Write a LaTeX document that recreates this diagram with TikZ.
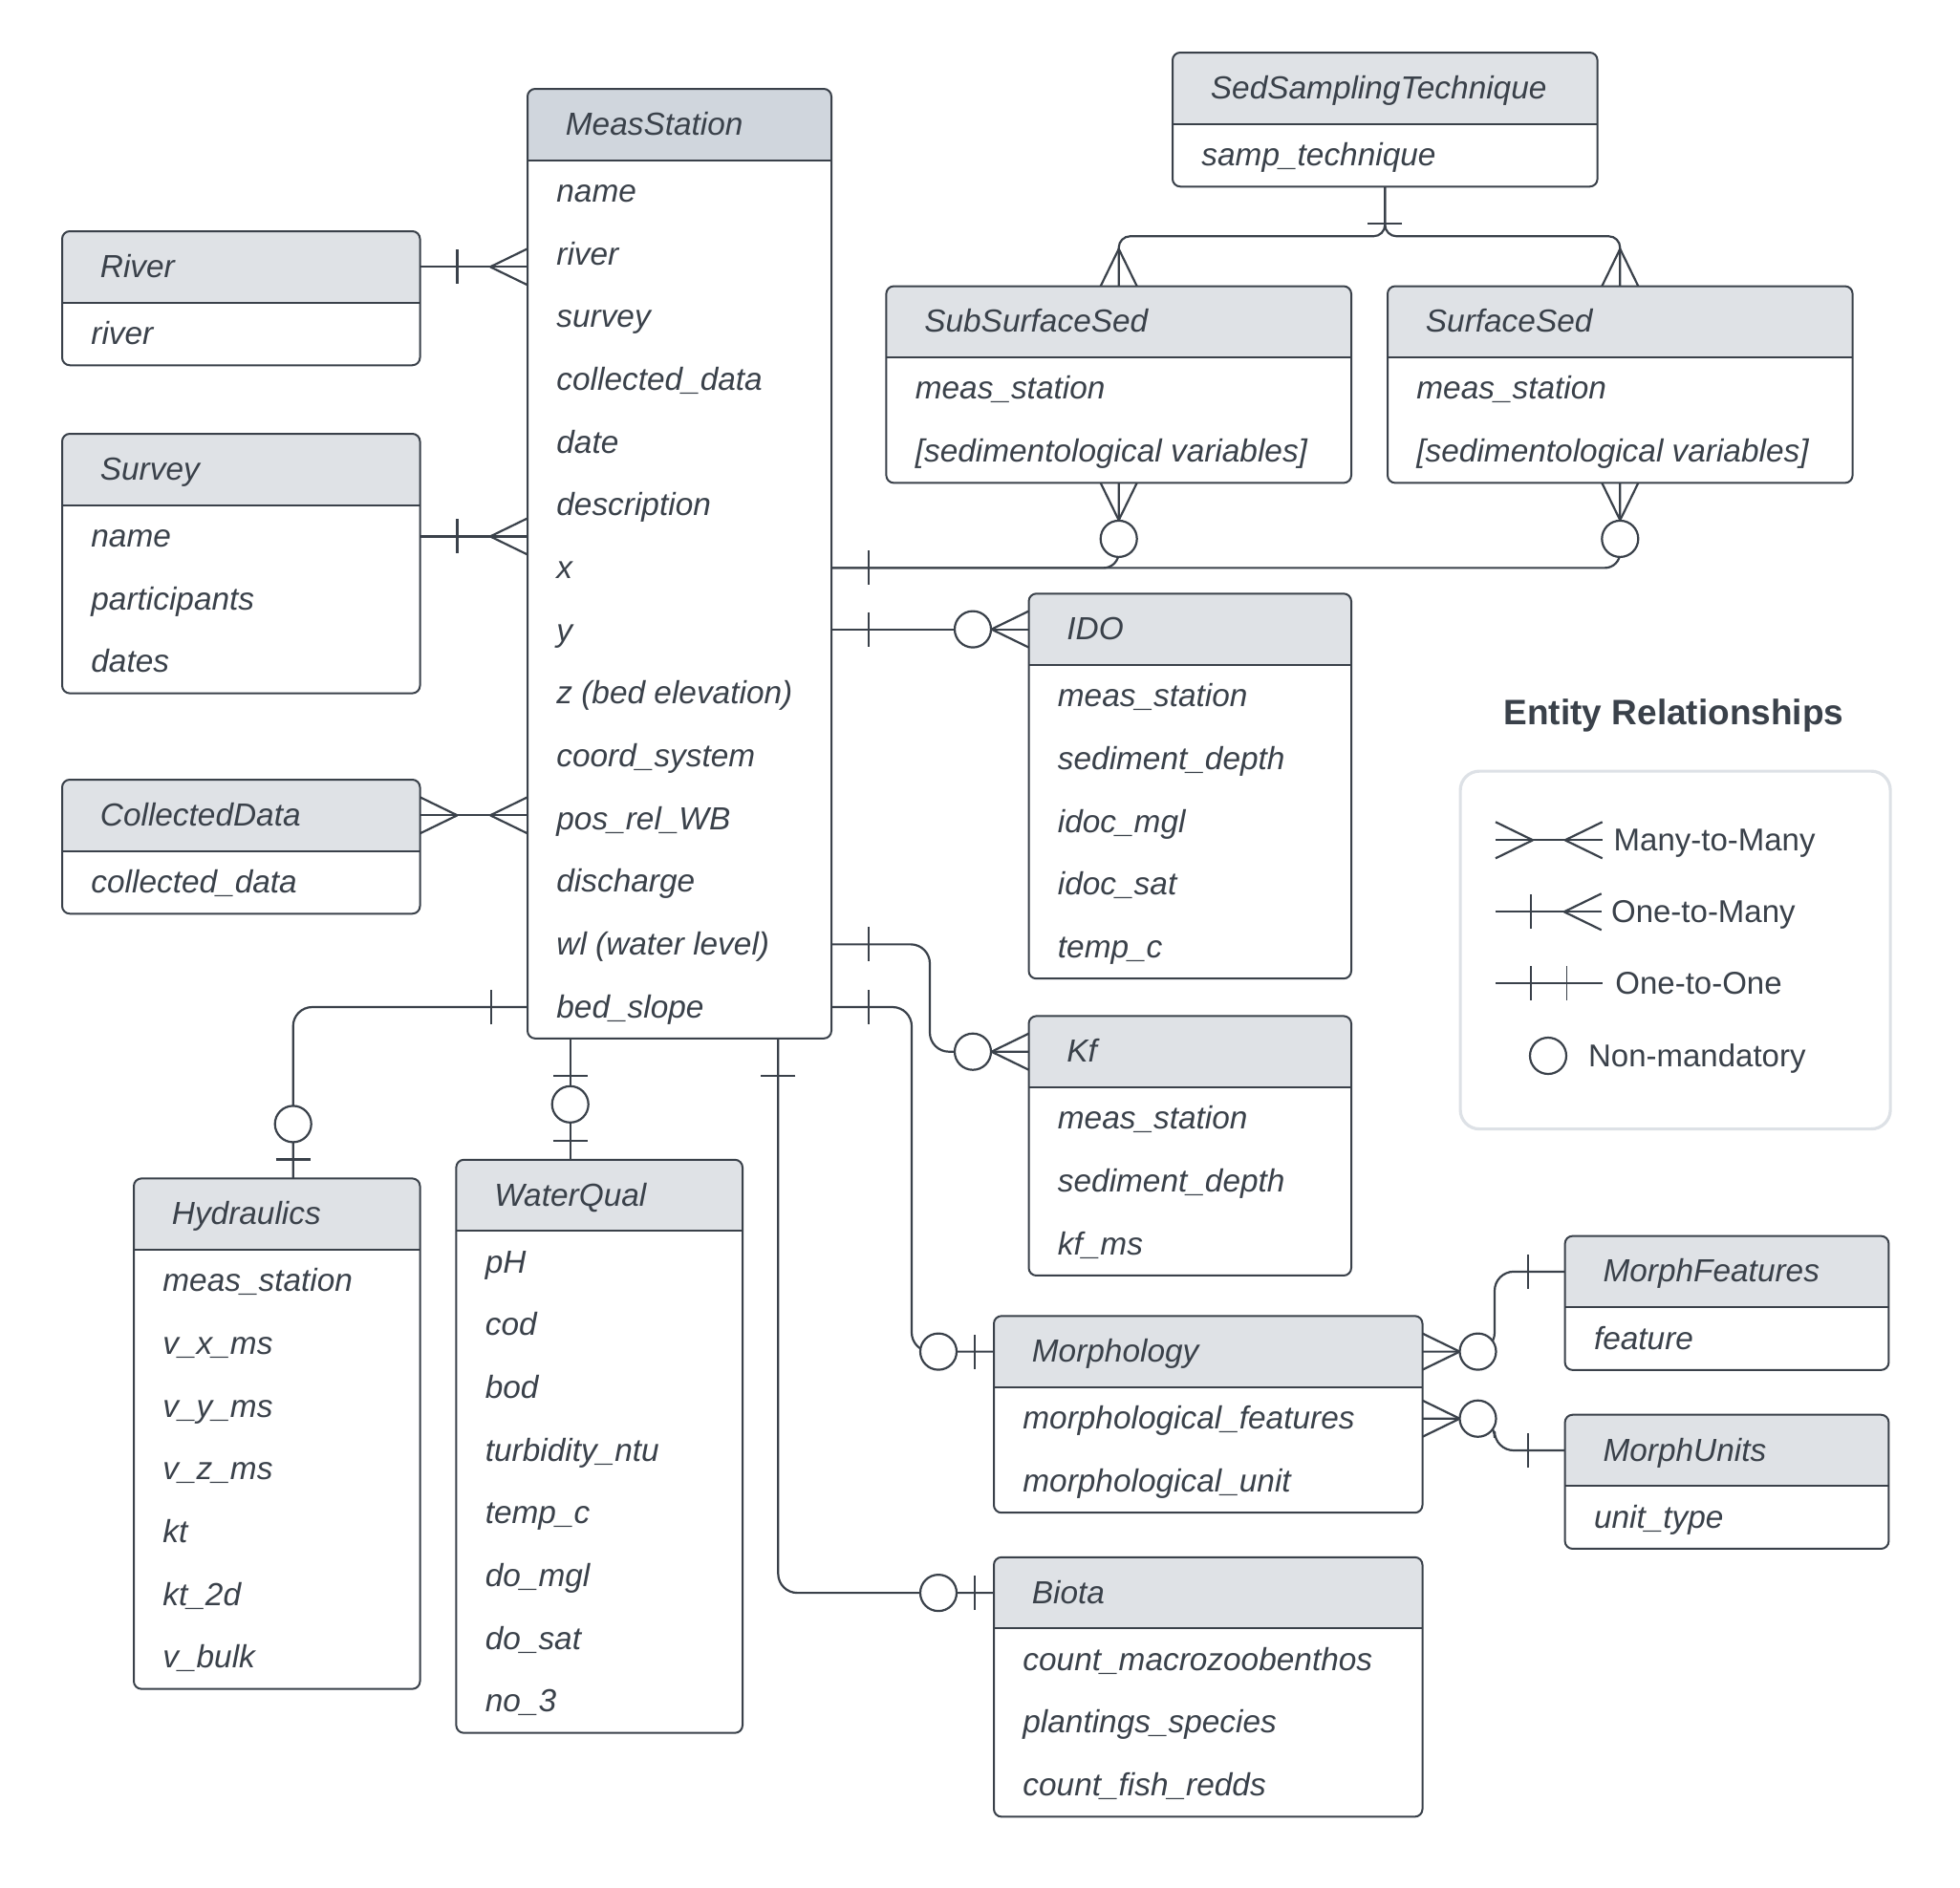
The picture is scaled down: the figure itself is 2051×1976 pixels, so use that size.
\documentclass[tikz,border=0pt]{standalone}
\usepackage{fontspec}
\setmainfont{Liberation Sans}
\usetikzlibrary{calc}

\definecolor{ink}{HTML}{3A414A}
\definecolor{hdr}{HTML}{DFE2E6}
\definecolor{hdrkey}{HTML}{D0D6DD}
\definecolor{legendrim}{HTML}{DDE1E6}

\tikzset{
  conn/.style={draw=ink, line width=1.1pt},
  thintick/.style={line width=0.7pt},
  erframe/.style={rectangle, draw=ink, line width=1pt, rounded corners=4pt,
                  inner sep=0pt, outer sep=0pt},
  hdtext/.style={anchor=base west, inner sep=0pt, text=ink,
                 font=\fontsize{16.7}{20}\selectfont\itshape},
  rowtext/.style={anchor=base west, inner sep=0pt, text=ink,
                  font=\fontsize{16.7}{20}\selectfont\itshape},
  legtext/.style={anchor=base west, inner sep=0pt, text=ink,
                  font=\fontsize{16.5}{20}\selectfont},
  legtitle/.style={anchor=base, inner sep=0pt, text=ink,
                   font=\fontsize{18.5}{22}\selectfont\bfseries},
}

% entity box: [header colour]{id}{left}{top}{width}{rows}{title}{row texts}
\newcommand\erbox[8][hdr]{%
  \pgfmathsetmacro\erh{74.6+65.66*#6}%
  \pgfmathsetmacro\erwpt{#5*0.5}%
  \pgfmathsetmacro\erhpt{\erh*0.5}%
  \begin{scope}
    \clip[rounded corners=4pt] (#3,#4) rectangle ++(#5,\erh);
    \fill[white] (#3,#4) rectangle ++(#5,\erh);
    \fill[#1] (#3,#4) rectangle ++(#5,74.6);
  \end{scope}
  \node[erframe, minimum width=\erwpt pt, minimum height=\erhpt pt,
        anchor=north west] (#2) at (#3,#4) {};
  \draw[ink, line width=1pt] (#3,{#4+74.6}) -- ++(#5,0);
  \coordinate (#2-h) at (#3,{#4+37.3});
  \node[hdtext] (#2-t) at ({#3+39.5},{#4+48.3}) {#7};
  \foreach \txt [count=\i from 0] in {#8}{%
    \coordinate (#2-\i) at (#3,{#4+107.43+65.66*\i});
    \node[rowtext] (#2-r\i) at ({#3+30},{#4+118.43+65.66*\i}) {\txt};
  }%
}

% crow's foot at an entity edge, opening towards the entity
\newcommand\crowfoot[2]{%
  \draw[conn] ([shift={(#2:19.5pt)}]#1) -- ([shift={(#2+90:9.5pt)}]#1)
              ([shift={(#2:19.5pt)}]#1) -- ([shift={(#2-90:9.5pt)}]#1);}
% single bar across a connector
\newcommand\onetick[4][]{%
  \draw[conn,#1] ([shift={(#3:#4)}]#2) ++(#3+90:9pt) -- ++(#3-90:18pt);}
% optional (zero) circle on a connector
\newcommand\optcirc[3]{%
  \draw[conn, fill=white] ([shift={(#2:#3)}]#1) circle[radius=9.5pt];}

\begin{document}
\begin{tikzpicture}[x=0.5pt, y=-0.5pt]
\fill[white] (0,0) rectangle (2051,1976);
\useasboundingbox (0,0) rectangle (2051,1976);

% ---------- entities ----------
\erbox[hdrkey]{ms}{552}{93}{318}{14}{MeasStation}{name, river, survey, collected\_data, date, description, x, y, {z (bed elevation)}, coord\_system, pos\_rel\_WB, discharge, {wl (water level)}, bed\_slope}
\erbox{river}{65}{242}{374.5}{1}{River}{river}
\erbox{survey}{65}{454}{374.5}{3}{Survey}{name, participants, dates}
\erbox{cdata}{65}{816}{374.5}{1}{CollectedData}{collected\_data}
\erbox{sst}{1227}{55}{444.6}{1}{SedSamplingTechnique}{samp\_technique}
\erbox{sub}{927.4}{299.5}{486.6}{2}{SubSurfaceSed}{meas\_station, {[sedimentological variables]}}
\erbox{surf}{1452}{299.5}{486.6}{2}{SurfaceSed}{meas\_station, {[sedimentological variables]}}
\erbox{ido}{1076.5}{621.3}{337.5}{5}{IDO}{meas\_station, sediment\_depth, idoc\_mgl, idoc\_sat, temp\_c}
\erbox{kf}{1076.5}{1063.4}{337.5}{3}{Kf}{meas\_station, sediment\_depth, kf\_ms}
\erbox{morph}{1040}{1377.3}{448.5}{2}{Morphology}{morphological\_features, morphological\_unit}
\erbox{mf}{1637.6}{1293.6}{338.8}{1}{MorphFeatures}{feature}
\erbox{mu}{1637.6}{1480.7}{338.8}{1}{MorphUnits}{unit\_type}
\erbox{biota}{1040}{1629.8}{448.5}{3}{Biota}{count\_macrozoobenthos, plantings\_species, count\_fish\_redds}
\erbox{hyd}{140}{1233.4}{299.5}{7}{Hydraulics}{meas\_station, v\_x\_ms, v\_y\_ms, v\_z\_ms, kt, kt\_2d, v\_bulk}
\erbox{wq}{477.4}{1213.8}{299.6}{8}{WaterQual}{pH, cod, bod, turbidity\_ntu, temp\_c, do\_mgl, do\_sat, no\_3}

% ---------- connector end points ----------
\coordinate (rv1) at (river.east |- river-h);
\coordinate (rv2) at (ms.west |- river-h);
\coordinate (sv1) at (survey.east |- survey-0);
\coordinate (sv2) at (ms.west |- survey-0);
\coordinate (cd1) at (cdata.east |- cdata-h);
\coordinate (cd2) at (ms.west |- cdata-h);
\coordinate (st0) at (sst.south);
\coordinate (st1) at (sub.north);
\coordinate (st2) at (surf.north);
\coordinate (sx0) at (ms.east |- ms-6);
\coordinate (sx1) at (sub.south);
\coordinate (sx2) at (surf.south);
\coordinate (id0) at (ms.east |- ido-h);
\coordinate (id1) at (ido-h);
\coordinate (kfx) at (973,0);
\coordinate (kf0) at (ms.east |- ms-12);
\coordinate (kf1) at (kf-h);
\coordinate (mox) at (954,0);
\coordinate (mo0) at (ms.east |- ms-13);
\coordinate (mo1) at (morph-h);
\coordinate (bix) at (814.3,0);
\coordinate (bi0) at (ms.south -| bix);
\coordinate (bi1) at (biota-h);
\coordinate (hyx) at (306.7,0);
\coordinate (hy0) at (ms.west |- ms-13);
\coordinate (hy1) at (hyd.north -| hyx);
\coordinate (wqx) at (596.7,0);
\coordinate (wq0) at (ms.south -| wqx);
\coordinate (wq1) at (wq.north -| wqx);
\coordinate (mfx) at (1564,0);
\coordinate (mf0) at (morph.east |- morph-h);
\coordinate (mf1) at (mf-h);
\coordinate (mu0) at (morph.east |- morph-0);
\coordinate (mu1) at (mu-h);

% ---------- connectors ----------
\draw[conn] (rv1) -- (rv2);
\draw[conn] (sv1) -- (sv2);
\draw[conn] (cd1) -- (cd2);
\draw[conn, rounded corners=6pt] (st0) -- ++(0,52) -| (st1);
\draw[conn, rounded corners=6pt] (st0) -- ++(0,52) -| (st2);
\draw[conn, rounded corners=8pt] (sx0) -| (sx1);
\draw[conn, rounded corners=8pt] (sx0) -| (sx2);
\draw[conn] (id0) -- (id1);
\draw[conn, rounded corners=10pt] (kf0) -| (kfx |- kf1) -- (kf1);
\draw[conn, rounded corners=10pt] (mo0) -| (mox |- mo1) -- (mo1);
\draw[conn, rounded corners=10pt] (bi0) |- (bi1);
\draw[conn, rounded corners=10pt] (hy0) -| (hy1);
\draw[conn] (wq0) -- (wq1);
\draw[conn, rounded corners=10pt] (mf0) -| (mfx |- mf1) -- (mf1);
\draw[conn, rounded corners=10pt] (mu0) -| (mfx |- mu1) -- (mu1);

% ---------- cardinality marks ----------
\onetick{rv1}{0}{19.5pt}       \crowfoot{rv2}{180}
\onetick{sv1}{0}{19.5pt}       \crowfoot{sv2}{180}
\crowfoot{cd1}{0}              \crowfoot{cd2}{180}
\onetick{st0}{-90}{19.5pt}
\crowfoot{st1}{90}             \crowfoot{st2}{90}
\onetick[thintick]{sx0}{0}{19.5pt}
\crowfoot{sx1}{-90}            \optcirc{sx1}{-90}{29.25pt}
\crowfoot{sx2}{-90}            \optcirc{sx2}{-90}{29.25pt}
\onetick[thintick]{id0}{0}{19.5pt}
\crowfoot{id1}{180}            \optcirc{id1}{180}{29.25pt}
\onetick[thintick]{kf0}{0}{19.5pt}
\crowfoot{kf1}{180}            \optcirc{kf1}{180}{29.25pt}
\onetick[thintick]{mo0}{0}{19.5pt}
\onetick{mo1}{180}{10pt}       \optcirc{mo1}{180}{29pt}
\onetick{bi0}{-90}{19.5pt}
\onetick{bi1}{180}{10pt}       \optcirc{bi1}{180}{29pt}
\onetick[thintick]{hy0}{180}{19pt}
\onetick{hy1}{90}{10pt}        \optcirc{hy1}{90}{28.5pt}
\onetick{wq0}{-90}{19.5pt}
\onetick{wq1}{90}{10pt}        \optcirc{wq1}{90}{29pt}
\crowfoot{mf0}{0}              \optcirc{mf0}{0}{29pt}
\onetick{mf1}{180}{19.5pt}
\crowfoot{mu0}{0}              \optcirc{mu0}{0}{29pt}
\onetick{mu1}{180}{19.5pt}

% ---------- legend ----------
\node[legtitle] (legtitle) at (1751.5,758) {Entity Relationships};
\node[draw=legendrim, line width=1.6pt, rounded corners=10pt, inner sep=0pt,
      minimum width=225pt, minimum height=187.25pt, anchor=north west]
      (legend) at (1526.5,805.5) {};

\coordinate (l1a) at (1565,879.3);
\coordinate (l1b) at (1676.7,879.3);
\draw[conn] (l1a) -- (l1b);
\crowfoot{l1a}{0} \crowfoot{l1b}{180}
\node[legtext] (lt1) at (1688.3,890.3) {Many-to-Many};

\coordinate (l2a) at (1565,954.3);
\coordinate (l2b) at (1675.7,954.3);
\draw[conn] (l2a) -- (l2b);
\onetick{l2a}{0}{18.35pt} \crowfoot{l2b}{180}
\node[legtext] (lt2) at (1685.7,965.3) {One-to-Many};

\coordinate (l3a) at (1565,1029.3);
\coordinate (l3b) at (1676.7,1029.3);
\draw[conn] (l3a) -- (l3b);
\onetick{l3a}{0}{18.35pt} \onetick[thintick]{l3a}{0}{37.15pt}
\node[legtext] (lt3) at (1690,1040.3) {One-to-One};

\coordinate (l4) at (1620,1105);
\draw[conn] (l4) circle[radius=9.5pt];
\node[legtext] (lt4) at (1661.7,1116) {Non-mandatory};

\end{tikzpicture}
\end{document}
